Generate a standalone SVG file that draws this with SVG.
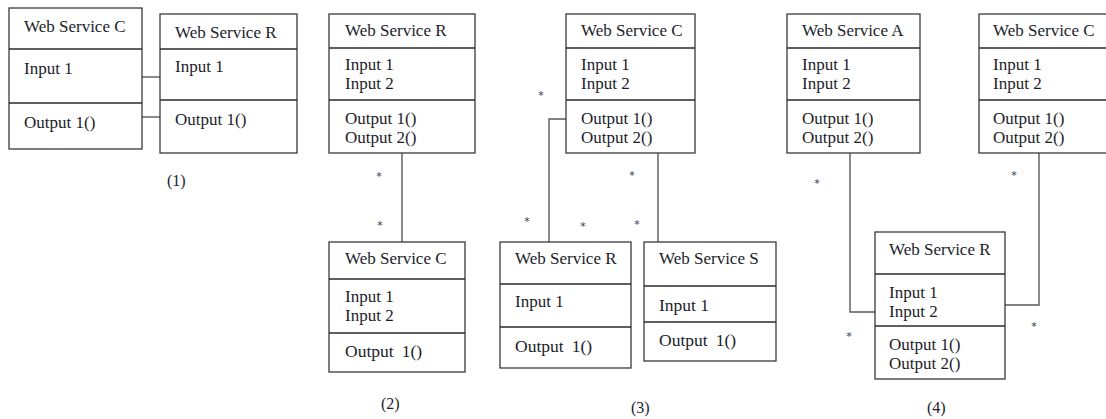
<svg xmlns="http://www.w3.org/2000/svg" width="1106" height="419" viewBox="0 0 1106 419">
  <style>
    .box { fill: #ffffff; stroke: #3a3a3a; stroke-width: 1.3; }
    .div { stroke: #2a2a2a; stroke-width: 1.3; }
    .t { font-family: "Liberation Serif", "Times New Roman", serif; font-size: 17px; fill: #1b1d2a; }
    .lg { font-size: 17.5px; }
    .lbl { font-family: "Liberation Serif", "Times New Roman", serif; font-size: 16px; fill: #1b1d2a; }
    .star { font-family: "DejaVu Sans", sans-serif; font-size: 11px; fill: #2d3550; text-anchor: middle; }
    .con { fill: none; stroke: #5a5a5a; stroke-width: 1.4; }
  </style>
  <rect width="1106" height="419" fill="#ffffff"/>

  <!-- connectors -->
  <g id="connectors">
    <!-- (1) -->
    <line class="con" x1="142" y1="77" x2="164" y2="77"/>
    <line class="con" x1="142" y1="117" x2="164" y2="117"/>
    <!-- (2) -->
    <line class="con" x1="402" y1="153" x2="402" y2="242"/>
    <!-- (3) -->
    <polyline class="con" points="566,119 549,119 549,242"/>
    <line class="con" x1="658" y1="153" x2="658" y2="242"/>
    <!-- (4) -->
    <polyline class="con" points="850,153 850,312 875,312"/>
    <polyline class="con" points="1005,305 1039,305 1039,153"/>
  </g>

  <!-- multiplicity marks -->
  <g id="multiplicities">
    <text class="star" x="379" y="180">*</text>
    <text class="star" x="380" y="229">*</text>
    <text class="star" x="541" y="99">*</text>
    <text class="star" x="632" y="179">*</text>
    <text class="star" x="527" y="225">*</text>
    <text class="star" x="583" y="230">*</text>
    <text class="star" x="637" y="228">*</text>
    <text class="star" x="817" y="187">*</text>
    <text class="star" x="1014" y="179">*</text>
    <text class="star" x="849" y="340">*</text>
    <text class="star" x="1034" y="330">*</text>
  </g>

  <!-- (1) Web Service C -->
  <g id="ws-c1">
    <rect class="box" x="9" y="8" width="133" height="141"/>
    <line class="div" x1="9" y1="49" x2="142" y2="49"/>
    <line class="div" x1="9" y1="103" x2="142" y2="103"/>
    <text class="t" x="24" y="32">Web Service C</text>
    <text class="t" x="24" y="74">Input 1</text>
    <text class="t" x="24" y="128">Output 1()</text>
  </g>

  <!-- (1) Web Service R -->
  <g id="ws-r1">
    <rect class="box" x="160" y="14" width="137" height="139"/>
    <line class="div" x1="160" y1="49" x2="297" y2="49"/>
    <line class="div" x1="160" y1="100" x2="297" y2="100"/>
    <text class="t" x="175" y="38">Web Service R</text>
    <text class="t" x="175" y="72">Input 1</text>
    <text class="t" x="175" y="125">Output 1()</text>
  </g>

  <!-- (2) Web Service R -->
  <g id="ws-r2">
    <rect class="box" x="329" y="14" width="146" height="139"/>
    <line class="div" x1="329" y1="48" x2="475" y2="48"/>
    <line class="div" x1="329" y1="100" x2="475" y2="100"/>
    <text class="t" x="345" y="36">Web Service R</text>
    <text class="t" x="345" y="70">Input 1</text>
    <text class="t" x="345" y="89">Input 2</text>
    <text class="t" x="345" y="124">Output 1()</text>
    <text class="t" x="345" y="143">Output 2()</text>
  </g>

  <!-- (2) Web Service C -->
  <g id="ws-c2">
    <rect class="box" x="329" y="242" width="136" height="130"/>
    <line class="div" x1="329" y1="279" x2="465" y2="279"/>
    <line class="div" x1="329" y1="333" x2="465" y2="333"/>
    <text class="t" x="345" y="264">Web Service C</text>
    <text class="t" x="345" y="302">Input 1</text>
    <text class="t" x="345" y="321">Input 2</text>
    <text class="t lg" x="345" y="357">Output<tspan dx="8">1()</tspan></text>
  </g>

  <!-- (3) Web Service C -->
  <g id="ws-c3">
    <rect class="box" x="566" y="14" width="129" height="139"/>
    <line class="div" x1="566" y1="48" x2="695" y2="48"/>
    <line class="div" x1="566" y1="100" x2="695" y2="100"/>
    <text class="t" x="581" y="36">Web Service C</text>
    <text class="t" x="581" y="70">Input 1</text>
    <text class="t" x="581" y="89">Input 2</text>
    <text class="t" x="581" y="124">Output 1()</text>
    <text class="t" x="581" y="143">Output 2()</text>
  </g>

  <!-- (3) Web Service R -->
  <g id="ws-r3">
    <rect class="box" x="500" y="242" width="131" height="126"/>
    <line class="div" x1="500" y1="284" x2="631" y2="284"/>
    <line class="div" x1="500" y1="327" x2="631" y2="327"/>
    <text class="t" x="515" y="264">Web Service R</text>
    <text class="t" x="515" y="307">Input 1</text>
    <text class="t lg" x="515" y="352">Output<tspan dx="8">1()</tspan></text>
  </g>

  <!-- (3) Web Service S -->
  <g id="ws-s3">
    <rect class="box" x="644" y="242" width="132" height="119"/>
    <line class="div" x1="644" y1="286" x2="776" y2="286"/>
    <line class="div" x1="644" y1="322" x2="776" y2="322"/>
    <text class="t" x="659" y="264">Web Service S</text>
    <text class="t lg" x="659" y="311">Input 1</text>
    <text class="t lg" x="659" y="346">Output<tspan dx="8">1()</tspan></text>
  </g>

  <!-- (4) Web Service A -->
  <g id="ws-a4">
    <rect class="box" x="787" y="14" width="133" height="139"/>
    <line class="div" x1="787" y1="48" x2="920" y2="48"/>
    <line class="div" x1="787" y1="100" x2="920" y2="100"/>
    <text class="t" x="802" y="36">Web Service A</text>
    <text class="t" x="802" y="70">Input 1</text>
    <text class="t" x="802" y="89">Input 2</text>
    <text class="t" x="802" y="124">Output 1()</text>
    <text class="t" x="802" y="143">Output 2()</text>
  </g>

  <!-- (4) Web Service C -->
  <g id="ws-c4">
    <rect class="box" x="979" y="14" width="140" height="139"/>
    <line class="div" x1="979" y1="48" x2="1119" y2="48"/>
    <line class="div" x1="979" y1="100" x2="1119" y2="100"/>
    <text class="t" x="993" y="36">Web Service C</text>
    <text class="t" x="993" y="70">Input 1</text>
    <text class="t" x="993" y="89">Input 2</text>
    <text class="t" x="993" y="124">Output 1()</text>
    <text class="t" x="993" y="143">Output 2()</text>
  </g>

  <!-- (4) Web Service R -->
  <g id="ws-r4">
    <rect class="box" x="875" y="232" width="130" height="147"/>
    <line class="div" x1="875" y1="274" x2="1005" y2="274"/>
    <line class="div" x1="875" y1="326" x2="1005" y2="326"/>
    <text class="t" x="889" y="255">Web Service R</text>
    <text class="t" x="889" y="298">Input 1</text>
    <text class="t" x="889" y="317">Input 2</text>
    <text class="t" x="889" y="350">Output 1()</text>
    <text class="t" x="889" y="369">Output 2()</text>
  </g>

  <!-- figure numbers -->
  <g id="captions">
    <text class="lbl" x="167" y="186">(1)</text>
    <text class="lbl" x="381" y="409">(2)</text>
    <text class="lbl" x="631" y="413">(3)</text>
    <text class="lbl" x="927" y="413">(4)</text>
  </g>
</svg>
